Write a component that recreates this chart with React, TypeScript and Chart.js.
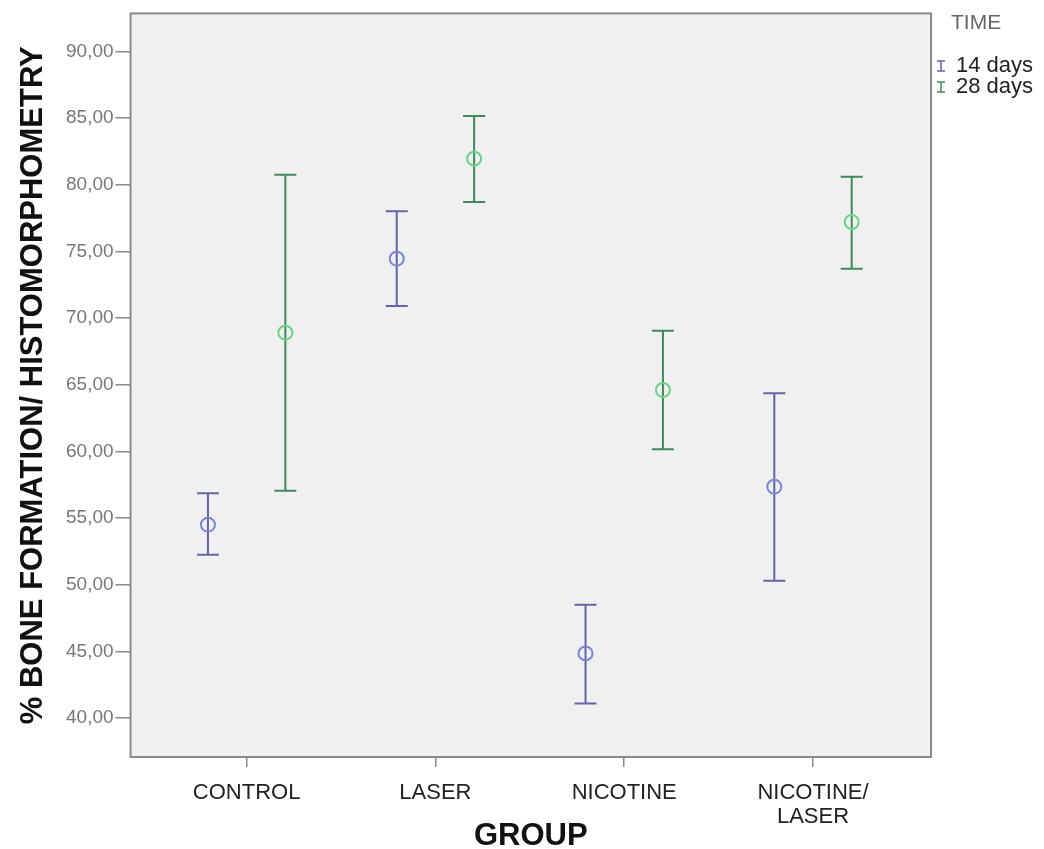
import React, { useEffect, useRef } from "react";
import { Chart, registerables } from "chart.js";

Chart.register(...registerables);

const categories: (string | string[])[] = ["CONTROL", "LASER", "NICOTINE", ["NICOTINE/", "LASER"]];
const seriesNames = ["14 days", "28 days"];
const mean14 = [54.5, 74.45, 44.85, 57.35];
const lower14 = [52.25, 70.9, 41.1, 50.3];
const upper14 = [56.85, 78.0, 48.5, 64.35];
const mean28 = [68.9, 81.95, 64.6, 77.2];
const lower28 = [57.05, 78.7, 60.15, 73.7];
const upper28 = [80.75, 85.15, 69.05, 80.6];
const yTicks = [40, 45, 50, 55, 60, 65, 70, 75, 80, 85, 90];

const BAR14 = "#6464a8";
const PT14 = "#7a86d6";
const BAR28 = "#3f8a5a";
const PT28 = "#6fd08c";
const OFFSET = 0.205;

export default function App() {
  const ref = useRef<HTMLCanvasElement | null>(null);
  useEffect(() => {
    if (!ref.current) return;
    const font = "'Liberation Sans', Arial, sans-serif";
    const errorPlugin = {
      id: "errorBars",
      beforeDraw(chart: any) {
        const { ctx, chartArea } = chart;
        ctx.save();
        ctx.fillStyle = "#f0f0f0";
        ctx.fillRect(chartArea.left, chartArea.top, chartArea.right - chartArea.left, chartArea.bottom - chartArea.top);
        ctx.restore();
      },
      afterDraw(chart: any) {
        const { ctx, chartArea } = chart;
        ctx.save();
        ctx.strokeStyle = "#8a8a8a";
        ctx.lineWidth = 2;
        ctx.strokeRect(chartArea.left, chartArea.top, chartArea.right - chartArea.left, chartArea.bottom - chartArea.top);
        ctx.restore();
        // legend
        ctx.save();
        ctx.font = `21px ${font}`;
        ctx.fillStyle = "#666";
        ctx.textBaseline = "middle";
        ctx.fillText("TIME", 951, 23);
        ctx.font = `22px ${font}`;
        ctx.fillStyle = "#222";
        const items = [
          { name: seriesNames[0], color: BAR14, y: 66 },
          { name: seriesNames[1], color: BAR28, y: 87 },
        ];
        items.forEach((it) => {
          ctx.strokeStyle = it.color;
          ctx.lineWidth = 1.5;
          ctx.beginPath();
          ctx.moveTo(937, it.y - 5); ctx.lineTo(945, it.y - 5);
          ctx.moveTo(937, it.y + 5); ctx.lineTo(945, it.y + 5);
          ctx.moveTo(941, it.y - 5); ctx.lineTo(941, it.y + 5);
          ctx.stroke();
          ctx.fillText(it.name, 956, it.y);
        });
        ctx.restore();
      },
      beforeDatasetsDraw(chart: any) {
        const { ctx, scales } = chart;
        const xs = scales.x;
        const ys = scales.y;
        const draw = (means: number[], lo: number[], hi: number[], off: number, color: string) => {
          ctx.save();
          ctx.strokeStyle = color;
          ctx.lineWidth = 2;
          means.forEach((_, i) => {
            const x = xs.getPixelForValue(i + 1 + off);
            const yl = ys.getPixelForValue(lo[i]);
            const yh = ys.getPixelForValue(hi[i]);
            ctx.beginPath();
            ctx.moveTo(x, yl); ctx.lineTo(x, yh);
            ctx.moveTo(x - 11, yl); ctx.lineTo(x + 11, yl);
            ctx.moveTo(x - 11, yh); ctx.lineTo(x + 11, yh);
            ctx.stroke();
          });
          ctx.restore();
        };
        draw(mean14, lower14, upper14, -OFFSET, BAR14);
        draw(mean28, lower28, upper28, OFFSET, BAR28);
      },
    };

    const chart = new Chart(ref.current, {
      type: "scatter",
      data: {
        datasets: [
          {
            label: seriesNames[0],
            data: mean14.map((v, i) => ({ x: i + 1 - OFFSET, y: v })),
            pointStyle: "circle",
            pointRadius: 7,
            pointBorderWidth: 2,
            pointBorderColor: PT14,
            pointBackgroundColor: "rgba(0,0,0,0)",
          },
          {
            label: seriesNames[1],
            data: mean28.map((v, i) => ({ x: i + 1 + OFFSET, y: v })),
            pointStyle: "circle",
            pointRadius: 7,
            pointBorderWidth: 2,
            pointBorderColor: PT28,
            pointBackgroundColor: "rgba(0,0,0,0)",
          },
        ],
      },
      options: {
        animation: false,
        responsive: false,
        layout: { padding: { top: 12, right: 113, left: 18, bottom: 0 } },
        plugins: { legend: { display: false }, tooltip: { enabled: false } },
        scales: {
          x: {
            type: "linear",
            min: 0.385,
            max: 4.625,
            afterBuildTicks(axis: any) {
              axis.ticks = [1, 2, 3, 4].map((v) => ({ value: v }));
            },
            grid: { drawOnChartArea: false, drawTicks: true, tickLength: 10, color: "#8a8a8a", lineWidth: 1.5 },
            border: { display: false },
            ticks: {
              autoSkip: false,
              maxRotation: 0,
              padding: 14,
              color: "#222",
              font: { family: font, size: 22, lineHeight: 1.1 },
              callback: (v: any) => categories[Math.round(Number(v)) - 1] as any,
            },
            title: {
              display: true,
              text: "GROUP",
              color: "#111",
              font: { family: font, size: 31, weight: "bold", lineHeight: 0.5 },
              padding: { top: -14.6, bottom: 4.7 },
            },
          },
          y: {
            min: 37.08,
            max: 92.84,
            afterBuildTicks(axis: any) {
              axis.ticks = yTicks.map((v) => ({ value: v }));
            },
            grid: { drawOnChartArea: false, drawTicks: true, tickLength: 15, color: "#8a8a8a", lineWidth: 1.5 },
            border: { display: false },
            ticks: {
              padding: 2,
              color: "#777",
              font: { family: font, size: 19 },
              callback: (v: any) => Number(v).toFixed(2).replace(".", ","),
            },
            title: {
              display: true,
              text: "% BONE FORMATION/ HISTOMORPHOMETRY",
              color: "#111",
              font: { family: font, size: 31, weight: "bold", lineHeight: 1 },
              padding: { top: 0, bottom: 15 },
            },
          },
        },
      },
      plugins: [errorPlugin],
    });
    return () => chart.destroy();
  }, []);
  return (
    <div style={{ position: "fixed", left: 0, top: 0, width: 1044, height: 849, background: "#fff" }}>
      <canvas ref={ref} width={1044} height={849} />
    </div>
  );
}
